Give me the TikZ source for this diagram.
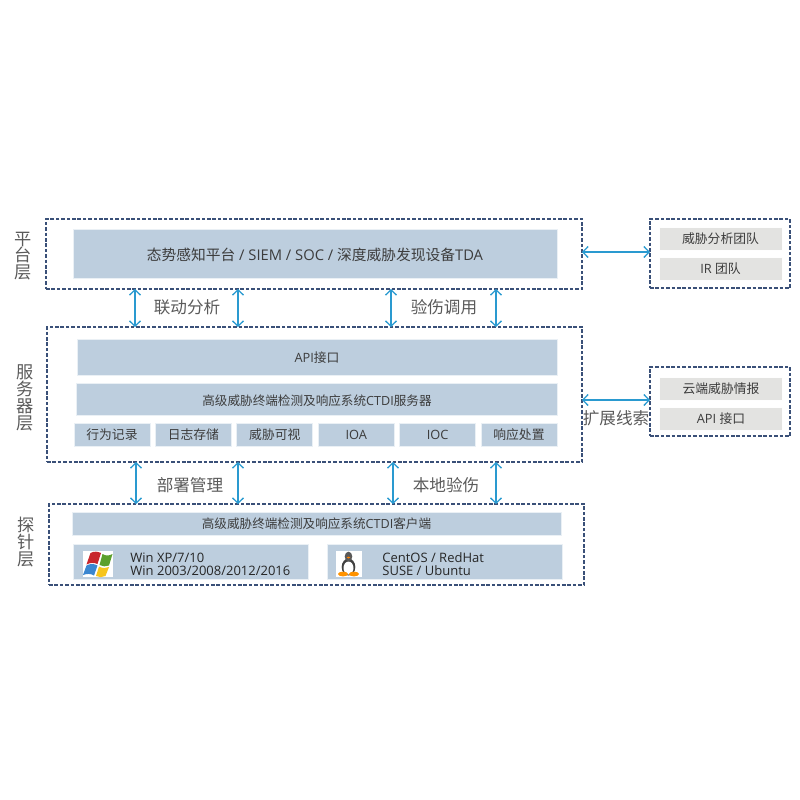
\documentclass[tikz,border=0pt]{standalone}
\usepackage{fontspec}
\setmainfont{Open Sans}
\newfontfamily\zh{Noto Sans CJK SC}
\usepackage{xcolor}
\usetikzlibrary{arrows.meta}
\usetikzlibrary{positioning}
\definecolor{boxblue}{HTML}{BDCEDE}
\definecolor{boxgray}{HTML}{E3E3E1}
\definecolor{edgeblue}{HTML}{EAF0F5}
\definecolor{dashnavy}{HTML}{3A5078}
\definecolor{linkblue}{HTML}{2A9AD0}
\definecolor{inktext}{HTML}{3C3C3C}
\definecolor{inklabel}{HTML}{5A5A5A}
\definecolor{winred}{HTML}{C8262C}
\definecolor{wingreen}{HTML}{5CA02C}
\definecolor{winblue}{HTML}{3A86D0}
\definecolor{winyellow}{HTML}{F6C51E}
\tikzstyle{layer_box} = [rectangle, draw=dashnavy, line width=0.6pt, dash pattern=on 1.8pt off 0.9pt, inner sep=0pt, outer sep=0pt]
\tikzstyle{block} = [rectangle, fill=boxblue, draw=edgeblue, line width=0.5pt, inner sep=0pt, outer sep=0pt, text=inktext, align=center, font=\fontsize{6.4}{7.5}\selectfont]
\tikzstyle{block_small} = [block, minimum width=38pt, minimum height=11.5pt]
\tikzstyle{block_gray} = [block, fill=boxgray, draw=white!95!boxgray, minimum width=61.5pt, minimum height=11.5pt]
\tikzstyle{label_big} = [text=inklabel, inner sep=0pt, font=\fontsize{8.3}{9}\selectfont\zh]
\tikzstyle{label_side} = [text=inklabel, inner sep=0pt, align=center, font=\fontsize{8.6}{8.4}\selectfont\zh]
\tikzstyle{label_os} = [inner sep=0pt, text=black!85, align=left, anchor=west, font=\fontsize{6.5}{6.5}\selectfont]
\tikzstyle{line} = [draw=linkblue, line width=0.65pt, {Straight Barb[length=2.6pt,width=5.5pt]}-{Straight Barb[length=2.6pt,width=5.5pt]}]
\begin{document}
\begin{tikzpicture}[x=0.5pt, y=-0.5pt]
    \useasboundingbox (0,0) rectangle (800,800);
    % Place layers
    \node [layer_box, minimum width=268pt, minimum height=35pt] (plat) at (314,254) {};
    \node [layer_box, minimum width=267.5pt, minimum height=67.5pt] (srv) at (314.5,394.5) {};
    \node [layer_box, minimum width=267.5pt, minimum height=40.5pt] (probe) at (316.5,544.5) {};
    \node [layer_box, minimum width=70pt, minimum height=34.5pt] (team) at (720,253.5) {};
    \node [layer_box, minimum width=70pt, minimum height=34.5pt] (intel) at (720,401.5) {};
    % Platform layer
    \node [block, minimum width=242pt, minimum height=24.5pt, text height=7pt, text depth=0pt, font=\fontsize{7.37}{8}\selectfont] (tda) at (315,253.5)
        {{\zh 态势感知平台} / SIEM / SOC / {\zh 深度威胁发现设备}TDA};
    % Server layer
    \node [block, minimum width=240pt, minimum height=18pt, text height=5.2pt, text depth=0pt] (api) at (317,357) {API{\zh 接口}};
    \node [block, minimum width=240.5pt, minimum height=16pt, text height=6.2pt, text depth=0pt, font=\fontsize{6.3}{7.5}\selectfont, below=4pt of api] (ctdi)
        {{\zh 高级威胁终端检测及响应系统}CTDI{\zh 服务器}};
    \node [block_small] (record) at (112,434.5) {\zh 行为记录};
    \node [block_small, right=2.7pt of record] (logs) {\zh 日志存储};
    \node [block_small, right=2.7pt of logs] (visual) {\zh 威胁可视};
    \node [block_small, right=2.7pt of visual] (ioa) {IOA};
    \node [block_small, right=2.7pt of ioa] (ioc) {IOC};
    \node [block_small, right=2.7pt of ioc] (resp) {\zh 响应处置};
    % Probe layer
    \node [block, minimum width=244.5pt, minimum height=11.5pt, font=\fontsize{6.3}{7}\selectfont] (client) at (316.5,524)
        {{\zh 高级威胁终端检测及响应系统}CTDI{\zh 客户端}};
    \node [block, minimum width=117.5pt, minimum height=17.5pt] (win) at (190.5,562) {};
    \node [block, minimum width=117.5pt, minimum height=17.5pt] (linux) at (444.5,562) {};
    \node [fill=white, inner sep=0pt, minimum width=15pt, minimum height=13pt] (winicon) at (97.5,564) {};
    \node [fill=white, inner sep=0pt, minimum width=13pt, minimum height=13pt] (linuxicon) at (349,564) {};
    \node [label_os] (wintext) at (130,564) {Win XP/7/10\\Win 2003/2008/2012/2016};
    \node [label_os] (linuxtext) at (382,564) {CentOS / RedHat\\SUSE / Ubuntu};
    % Icons
    \path [fill=winred] (90.5,553) .. controls (94,551) and (98,551.5) .. (101,553) -- (97.5,564) .. controls (94,562.5) and (90,562.5) .. (86.5,564.5) -- cycle;
    \path [fill=wingreen] (102.5,554) .. controls (105.5,556) and (109,556) .. (112.5,554) -- (109,565.5) .. controls (106,567) and (102.5,566.5) .. (99.5,565) -- cycle;
    \path [fill=winblue] (86.5,565.5) .. controls (90,563.5) and (94,563.5) .. (97.5,565.5) -- (94,575.5) .. controls (91,573.5) and (87,573.5) .. (83,575) -- cycle;
    \path [fill=winyellow] (99,566.5) .. controls (102.5,568.5) and (106,568.5) .. (109,567) -- (105.5,576) .. controls (102.5,577.5) and (99,577.5) .. (96,576) -- cycle;
    \path [fill=black!75] (348.5,567) ellipse [x radius=6.8, y radius=8.5];
    \path [fill=black!65] (348.5,556.5) ellipse [x radius=3.8, y radius=4.8];
    \path [fill=white] (348.5,568) ellipse [x radius=5, y radius=6.5];
    \path [fill=orange] (348.5,557.5) ellipse [x radius=1.8, y radius=1];
    \path [fill=orange!85!yellow] (343,574) ellipse [x radius=5, y radius=2.4];
    \path [fill=orange!85!yellow] (354,574) ellipse [x radius=5, y radius=2.4];
    % Side boxes
    \node [block_gray] (analysis) at (720.5,238.5) {\zh 威胁分析团队};
    \node [block_gray, below=3.5pt of analysis] (ir) {IR {\zh 团队}};
    \node [block_gray] (cloud) at (721,389) {\zh 云端威胁情报};
    \node [block_gray, below=3.5pt of cloud] (apiport) {API {\zh 接口}};
    % Labels
    \node [label_side] (lplat) at (23,256) {平\\台\\层};
    \node [label_side] (lsrv) at (25,398) {服\\务\\器\\层};
    \node [label_side] (lprobe) at (26,542) {探\\针\\层};
    \node [label_big] (llink) at (187,307) {联动分析};
    \node [label_big] (lcheck) at (444,307) {验伤调用};
    \node [label_big] (lmanage) at (190,485) {部署管理};
    \node [label_big] (llocal) at (446,485) {本地验伤};
    \node [label_big] (lclue) at (616,418) {扩展线索};
    % Draw edges
    \coordinate (upa) at (135,0);
    \coordinate (upb) at (238,0);
    \coordinate (upc) at (391,0);
    \coordinate (upd) at (496,0);
    \coordinate (loa) at (136,0);
    \coordinate (lob) at (238,0);
    \coordinate (loc) at (393,0);
    \coordinate (lod) at (496,0);
    \coordinate (ra) at (0,252);
    \coordinate (rb) at (0,400);
    \path [line] (plat.south -| upa) -- (srv.north -| upa);
    \path [line] (plat.south -| upb) -- (srv.north -| upb);
    \path [line] (plat.south -| upc) -- (srv.north -| upc);
    \path [line] (plat.south -| upd) -- (srv.north -| upd);
    \path [line] (srv.south -| loa) -- (probe.north -| loa);
    \path [line] (srv.south -| lob) -- (probe.north -| lob);
    \path [line] (srv.south -| loc) -- (probe.north -| loc);
    \path [line] (srv.south -| lod) -- (probe.north -| lod);
    \path [line] (plat.east |- ra) -- (team.west |- ra);
    \path [line] (srv.east |- rb) -- (intel.west |- rb);
\end{tikzpicture}
\end{document}
